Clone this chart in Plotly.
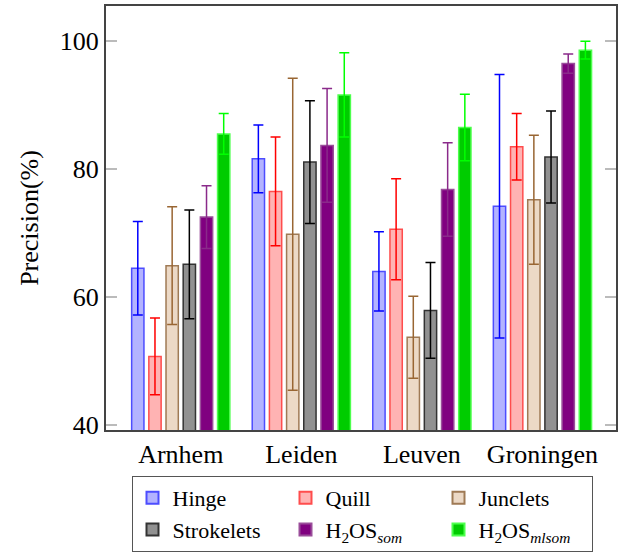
import plotly.graph_objects as go

cities = ["Arnhem", "Leiden", "Leuven", "Groningen"]

series_names = ["Hinge", "Quill", "Junclets", "Strokelets",
                "H<sub>2</sub>OS<sub><i>som</i></sub>",
                "H<sub>2</sub>OS<sub><i>mlsom</i></sub>"]

hinge = [64.5, 81.6, 64.0, 74.2]
hinge_err = [7.3, 5.3, 6.2, 20.6]
quill = [50.7, 76.5, 70.6, 83.5]
quill_err = [6.0, 8.5, 7.9, 5.2]
junclets = [64.9, 69.8, 53.7, 75.2]
junclets_err = [9.2, 24.4, 6.4, 10.1]
strokelets = [65.1, 81.1, 57.9, 81.9]
strokelets_err = [8.5, 9.6, 7.5, 7.2]
h2os_som = [72.5, 83.7, 76.8, 96.5]
h2os_som_err = [4.9, 8.9, 7.3, 1.5]
h2os_mlsom = [85.5, 91.6, 86.5, 98.6]
h2os_mlsom_err = [3.2, 6.6, 5.2, 1.4]

values = [hinge, quill, junclets, strokelets, h2os_som, h2os_mlsom]
errors = [hinge_err, quill_err, junclets_err, strokelets_err, h2os_som_err, h2os_mlsom_err]

fills = ["#B3B3FF", "#FFB3B3", "#ECD9C6", "#919191", "#800080", "#00CC00"]
borders = ["#4D4DFF", "#FF4D4D", "#9F7A55", "#333333", "#9A4D9A", "#4DFF4D"]
errcols = ["#0000FF", "#FF0000", "#996633", "#000000", "#8A2A8A", "#00FF00"]

FONT = "Liberation Serif"
FS = 26

fig = go.Figure()
for name, v, e, f, b, ec in zip(series_names, values, errors, fills, borders, errcols):
    fig.add_trace(go.Bar(
        x=cities, y=v, name=name,
        marker=dict(color=f, line=dict(color=b, width=1.5)),
        error_y=dict(type="data", array=e, visible=True, color=ec,
                     thickness=1.5, width=5),
    ))

fig.update_layout(
    template="none",
    width=624, height=553,
    margin=dict(l=106, r=8, t=6, b=123, autoexpand=False),
    paper_bgcolor="white", plot_bgcolor="white",
    barmode="group", bargap=0.145, bargroupgap=0.284,
    font=dict(family=FONT, size=FS, color="black"),
    showlegend=True,
    legend=dict(
        orientation="h", xref="container", yref="container",
        x=131.5 / 624, xanchor="left", y=(553 - 476) / 553, yanchor="top",
        bordercolor="#555555", borderwidth=1,
        font=dict(family=FONT, size=22),
        entrywidth=108, traceorder="normal",
        itemsizing="constant", tracegroupgap=0,
    ),
)
fig.update_xaxes(
    range=[-0.62, 3.61], showline=True, linecolor="#444444", linewidth=2,
    mirror=True, ticks="", showgrid=False, automargin=False,
    tickfont=dict(family=FONT, size=FS), ticklabelstandoff=0,
)
fig.update_yaxes(
    range=[39.2, 105.5], tickvals=[40, 60, 80, 100],
    showline=True, linecolor="#444444", linewidth=2, mirror="ticks",
    ticks="inside", ticklen=11, tickcolor="#BBBBBB", tickwidth=1.5,
    showgrid=False, zeroline=False, automargin=False,
    tickfont=dict(family=FONT, size=FS),
    title=dict(text="Precision(%)", font=dict(family=FONT, size=FS), standoff=14),
)

fig.write_html("out.html")
